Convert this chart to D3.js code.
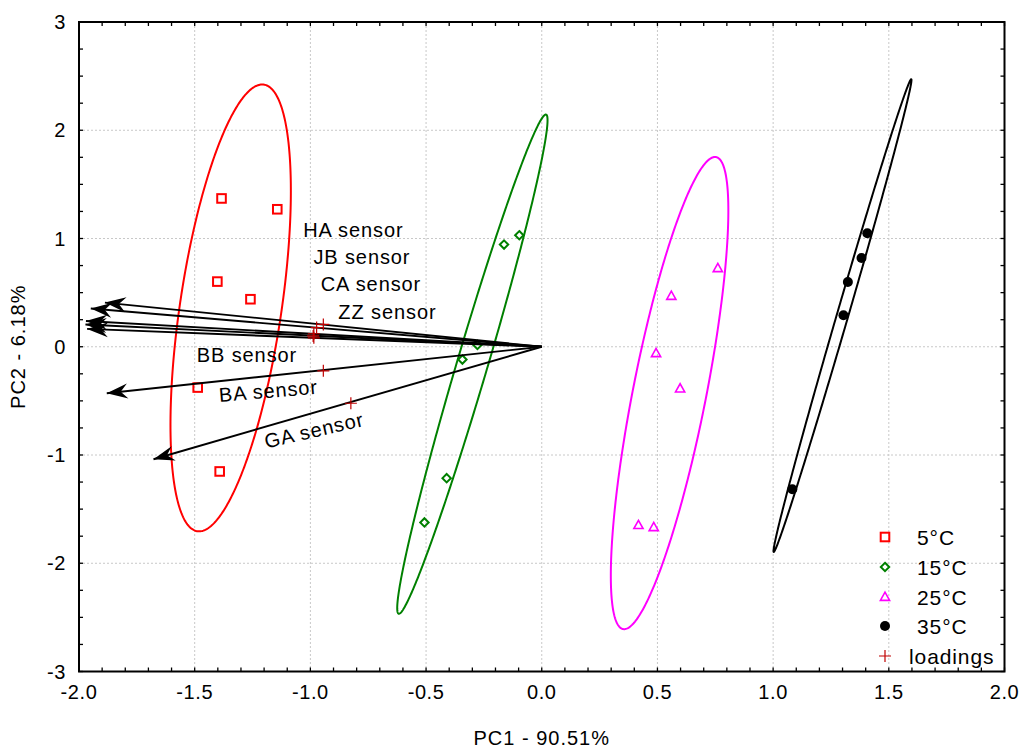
<!DOCTYPE html>
<html><head><meta charset="utf-8">
<script src="https://cdn.jsdelivr.net/npm/d3@7"></script>
<style>body{margin:0;background:#fff} text{font-family:"Liberation Sans",Arial,sans-serif;fill:#000}</style>
</head><body><svg id="c" width="1022" height="749"></svg>
<script>
// ---------- data ----------
const groupNames = ["5°C", "15°C", "25°C", "35°C"];
const pc1_5C  = [-1.384, -1.143, -1.402, -1.259, -1.487, -1.392];
const pc2_5C  = [ 1.370,  1.270,  0.602,  0.439, -0.377, -1.152];
const pc1_15C = [-0.163, -0.097, -0.278, -0.343, -0.411, -0.507];
const pc2_15C = [ 0.944,  1.030,  0.017, -0.118, -1.214, -1.623];
const pc1_25C = [ 0.761,  0.560,  0.494,  0.598,  0.418,  0.484];
const pc2_25C = [ 0.725,  0.469, -0.060, -0.386, -1.648, -1.667];
const pc1_35C = [ 1.407,  1.382,  1.323,  1.304,  1.083];
const pc2_35C = [ 1.048,  0.820,  0.598,  0.291, -1.316];

const sensorNames = ["HA sensor", "JB sensor", "CA sensor", "ZZ sensor", "BB sensor", "BA sensor", "GA sensor"];
const loadPC1  = [-0.944, -0.973, -0.985, -0.988, -0.985, -0.944, -0.825];
const loadPC2  = [ 0.206,  0.177,  0.120,  0.100,  0.082, -0.222, -0.522];
const arrowPC1 = [-1.888, -1.949, -1.970, -1.972, -1.965, -1.880, -1.678];
const arrowPC2 = [ 0.408,  0.353,  0.238,  0.205,  0.165, -0.429, -1.039];
const labelPC1 = [-1.031, -0.987, -0.955, -0.879, -1.491, -1.393, -1.191];
const labelPC2 = [ 1.014,  0.762,  0.515,  0.260, -0.140, -0.510, -0.940];
const labelAngle = [0, 0, 0, 0, 0, -4.8, -13];

const xTickValues = [-2.0, -1.5, -1.0, -0.5, 0.0, 0.5, 1.0, 1.5, 2.0];
const xTickLabels = ["-2.0", "-1.5", "-1.0", "-0.5", "0.0", "0.5", "1.0", "1.5", "2.0"];
const yTickValues = [-3, -2, -1, 0, 1, 2, 3];
const yTickLabels = ["-3", "-2", "-1", "0", "1", "2", "3"];
const xTitle = "PC1 - 90.51%";
const yTitle = "PC2 - 6.18%";
const legendLabels = ["5°C", "15°C", "25°C", "35°C", "loadings"];
const ellipseCoverage = 0.7225;

// ---------- layout ----------
const svg = d3.select("#c");
const L = 79, R = 1004.5, T = 22, B = 671.5;
const x = d3.scaleLinear().domain([-2, 2]).range([L, R]);
const y = d3.scaleLinear().domain([-3, 3]).range([B, T]);
const colors = ["#ff0000", "#008000", "#ff00ff", "#000000"];
const plusColor = "#c00000";
const FONT = 20;

const groups = [
  {pc1: pc1_5C, pc2: pc2_5C}, {pc1: pc1_15C, pc2: pc2_15C},
  {pc1: pc1_25C, pc2: pc2_25C}, {pc1: pc1_35C, pc2: pc2_35C}
];

svg.append("defs").append("clipPath").attr("id", "clip")
  .append("rect").attr("x", L).attr("y", T).attr("width", R - L).attr("height", B - T);

// grid
const grid = svg.append("g").attr("stroke", "#c8c8c8").attr("stroke-width", 1).attr("stroke-dasharray", "2,2");
xTickValues.slice(1, -1).forEach(v => grid.append("line").attr("x1", x(v)).attr("x2", x(v)).attr("y1", T).attr("y2", B));
yTickValues.slice(1, -1).forEach(v => grid.append("line").attr("y1", y(v)).attr("y2", y(v)).attr("x1", L).attr("x2", R));

const plot = svg.append("g").attr("clip-path", "url(#clip)");

// confidence ellipses from group covariance
function ellipsePath(g) {
  const n = g.pc1.length;
  const mx = d3.mean(g.pc1), my = d3.mean(g.pc2);
  let sxx = 0, syy = 0, sxy = 0;
  for (let i = 0; i < n; i++) {
    const dx = g.pc1[i] - mx, dy = g.pc2[i] - my;
    sxx += dx * dx; syy += dy * dy; sxy += dx * dy;
  }
  sxx /= (n - 1); syy /= (n - 1); sxy /= (n - 1);
  const d = n - 2;
  const F = (d / 2) * (Math.pow(1 - ellipseCoverage, -2 / d) - 1);
  const k = Math.sqrt(2 * (n - 1) / (n - 2) * F);
  const a = Math.sqrt(sxx), b = sxy / a, c = Math.sqrt(Math.max(syy - b * b, 0));
  const pts = [];
  for (let i = 0; i <= 360; i++) {
    const t = i / 360 * 2 * Math.PI;
    const u = Math.cos(t), v = Math.sin(t);
    pts.push([x(mx + k * a * u), y(my + k * (b * u + c * v))]);
  }
  return d3.line()(pts) + "Z";
}
groups.forEach((g, i) => {
  plot.append("path").attr("d", ellipsePath(g)).attr("fill", "none")
    .attr("stroke", colors[i]).attr("stroke-width", 2);
});

// markers
function drawMarker(sel, type, cx, cy) {
  if (type === 0) {
    sel.append("rect").attr("x", cx - 4.3).attr("y", cy - 4.3).attr("width", 8.6).attr("height", 8.6)
      .attr("fill", "none").attr("stroke", colors[0]).attr("stroke-width", 2);
  } else if (type === 1) {
    const r = 4.2;
    sel.append("path").attr("d", `M${cx},${cy - r}L${cx + r},${cy}L${cx},${cy + r}L${cx - r},${cy}Z`)
      .attr("fill", "none").attr("stroke", colors[1]).attr("stroke-width", 2);
  } else if (type === 2) {
    sel.append("path").attr("d", `M${cx},${cy - 4.8}L${cx + 4.6},${cy + 3.4}L${cx - 4.6},${cy + 3.4}Z`)
      .attr("fill", "none").attr("stroke", colors[2]).attr("stroke-width", 1.6);
  } else if (type === 3) {
    sel.append("circle").attr("cx", cx).attr("cy", cy).attr("r", 5).attr("fill", "#000");
  } else {
    sel.append("path").attr("d", `M${cx - 6},${cy}H${cx + 6}M${cx},${cy - 6}V${cy + 6}`)
      .attr("stroke", plusColor).attr("stroke-width", 1.2).attr("fill", "none");
  }
}
groups.forEach((g, gi) => {
  g.pc1.forEach((v, i) => drawMarker(plot, gi, x(v), y(g.pc2[i])));
});

// loading arrows
const defs = svg.select("defs");
defs.append("marker").attr("id", "ah").attr("markerUnits", "userSpaceOnUse")
  .attr("viewBox", "-22 -9 24 18").attr("refX", 0).attr("refY", 0)
  .attr("markerWidth", 24).attr("markerHeight", 18).attr("orient", "auto")
  .append("path").attr("d", "M0,0L-21,-7.5L-14,0L-21,7.5Z").attr("fill", "#000");
const arrows = svg.append("g");
sensorNames.forEach((s, i) => {
  arrows.append("line").attr("x1", x(0)).attr("y1", y(0))
    .attr("x2", x(arrowPC1[i])).attr("y2", y(arrowPC2[i]))
    .attr("stroke", "#000").attr("stroke-width", 1.9).attr("marker-end", "url(#ah)");
});
sensorNames.forEach((s, i) => drawMarker(svg, 4, x(loadPC1[i]), y(loadPC2[i])));

// sensor labels
sensorNames.forEach((s, i) => {
  const px = x(labelPC1[i]), py = y(labelPC2[i]);
  svg.append("text").attr("x", px).attr("y", py)
    .attr("transform", `rotate(${labelAngle[i]},${px},${py})`)
    .attr("font-size", FONT).attr("letter-spacing", "0.9px").text(s);
});

// legend
const legY = [537, 567, 597, 626, 656];
const legend = svg.append("g");
legendLabels.forEach((t, i) => {
  drawMarker(legend, i, 885, legY[i]);
  legend.append("text").attr("x", i === 4 ? 909 : 917).attr("y", legY[i] + 7.5)
    .attr("font-size", 21).attr("letter-spacing", "0.9px").text(t);
});

// axes frame + ticks (inward)
const ax = svg.append("g").attr("stroke", "#000");
ax.append("rect").attr("x", L).attr("y", T).attr("width", R - L).attr("height", B - T)
  .attr("fill", "none").attr("stroke-width", 2);
const xMinor = d3.range(-20, 21).map(v => v / 10);
const yMinor = d3.range(-12, 13).map(v => v / 4);
const tl = 4;
xMinor.forEach(v => {
  ax.append("line").attr("x1", x(v)).attr("x2", x(v)).attr("y1", B).attr("y2", B - tl).attr("stroke-width", 1.3);
  ax.append("line").attr("x1", x(v)).attr("x2", x(v)).attr("y1", T).attr("y2", T + tl).attr("stroke-width", 1.3);
});
yMinor.forEach(v => {
  ax.append("line").attr("y1", y(v)).attr("y2", y(v)).attr("x1", L).attr("x2", L + tl).attr("stroke-width", 1.3);
  ax.append("line").attr("y1", y(v)).attr("y2", y(v)).attr("x1", R).attr("x2", R - tl).attr("stroke-width", 1.3);
});

// tick labels
xTickValues.forEach((v, i) => {
  svg.append("text").attr("x", x(v)).attr("y", 699).attr("text-anchor", "middle")
    .attr("font-size", FONT).attr("letter-spacing", "0.6px").text(xTickLabels[i]);
});
yTickValues.forEach((v, i) => {
  svg.append("text").attr("x", 66).attr("y", y(v) + 7).attr("text-anchor", "end")
    .attr("font-size", FONT).attr("letter-spacing", "0.6px").text(yTickLabels[i]);
});

// axis titles
svg.append("text").attr("x", x(0)).attr("y", 745).attr("text-anchor", "middle")
  .attr("font-size", FONT).attr("letter-spacing", "1px").text(xTitle);
svg.append("text").attr("transform", `translate(25,${y(0)}) rotate(-90)`).attr("text-anchor", "middle")
  .attr("font-size", FONT).attr("letter-spacing", "1px").text(yTitle);
</script></body></html>
